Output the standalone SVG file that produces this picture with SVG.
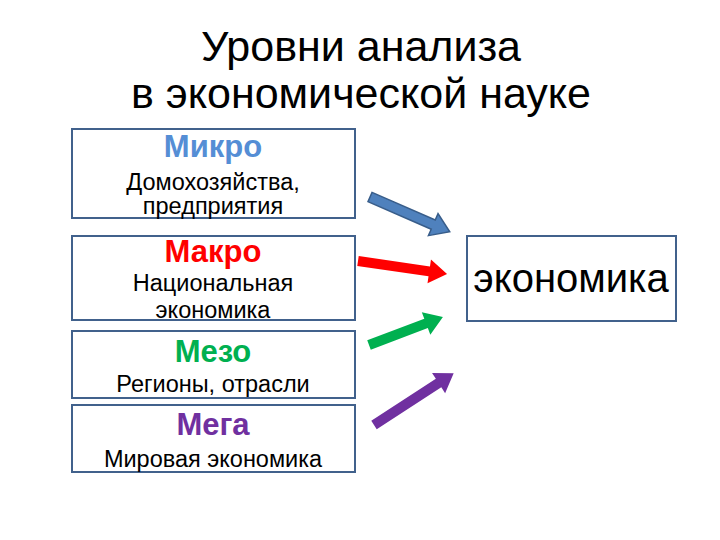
<svg xmlns="http://www.w3.org/2000/svg" width="720" height="540" viewBox="0 0 720 540">
<style>
.box{fill:#fff;stroke:#41618c;stroke-width:2}
.t{font-family:"Liberation Sans",Arial,sans-serif;text-anchor:middle}
.h{font-size:31px;font-weight:bold}
.s{font-size:23.5px;fill:#000}
.title{font-size:43px;fill:#000}
</style>
<rect width="720" height="540" fill="#fff"/>
<g id="title">
<text class="t title" x="361" y="61">Уровни анализа</text>
<text class="t title" x="361" y="108">в экономической науке</text>
</g>
<g id="micro">
<rect class="box" x="72" y="129" width="283" height="89"/>
<text class="t h" x="213" y="157" fill="#558ed5">Микро</text>
<text class="t s" x="213" y="190">Домохозяйства,</text>
<text class="t s" x="213" y="214">предприятия</text>
</g>
<g id="macro">
<rect class="box" x="72" y="236" width="283" height="84"/>
<text class="t h" x="213" y="262" fill="#ff0000">Макро</text>
<text class="t s" x="213" y="291">Национальная</text>
<text class="t s" x="213" y="318">экономика</text>
</g>
<g id="meso">
<rect class="box" x="72" y="331" width="283" height="67"/>
<text class="t h" x="213" y="362" fill="#00b050">Мезо</text>
<text class="t s" x="213" y="392">Регионы, отрасли</text>
</g>
<g id="mega">
<rect class="box" x="72" y="405" width="283" height="67"/>
<text class="t h" x="213" y="435" fill="#7030a0">Мега</text>
<text class="t s" x="213" y="467">Мировая экономика</text>
</g>
<g id="economy">
<rect class="box" x="467" y="236" width="209" height="85"/>
<text class="t" x="571" y="292" font-size="40" fill="#000">экономика</text>
</g>
<g id="connectors">
<path transform="translate(370,197) rotate(23.6)" d="M0,-5 L69,-5 L69,-12 L87,0 L69,12 L69,5 L0,5 Z" fill="#4f81bd" stroke="#385d8a" stroke-width="1.5"/>
<path transform="translate(358,261) rotate(8.3)" d="M0,-5 L72,-5 L72,-12 L90,0 L72,12 L72,5 L0,5 Z" fill="#ff0000"/>
<path transform="translate(369,345) rotate(-20.7)" d="M0,-5 L61,-5 L61,-12 L79,0 L61,12 L61,5 L0,5 Z" fill="#00b050"/>
<path transform="translate(374,425) rotate(-33)" d="M0,-5 L77,-5 L77,-12 L95,0 L77,12 L77,5 L0,5 Z" fill="#7030a0"/>
</g>
</svg>
